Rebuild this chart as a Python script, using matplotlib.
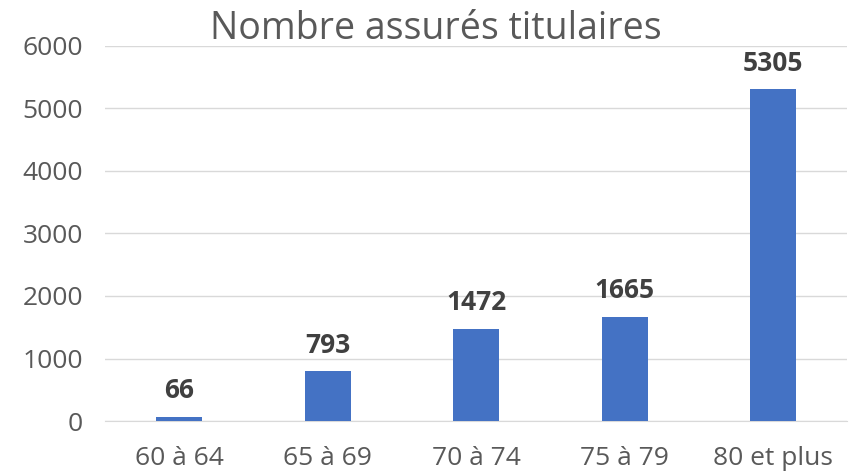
import matplotlib.pyplot as plt
import numpy as np

categories = ['60 à 64', '65 à 69', '70 à 74', '75 à 79', '80 et plus']
values = [66, 793, 1472, 1665, 5305]
yticks = [0, 1000, 2000, 3000, 4000, 5000, 6000]

plt.rcParams['font.family'] = ['Open Sans', 'DejaVu Sans']
grey = '#595959'

fig = plt.figure(figsize=(8.54, 4.76), dpi=100)
ax = fig.add_axes([0.123, 0.1155, 0.869, 0.788])

x = np.arange(len(categories))
ax.bar(x, values, width=0.31, color='#4472C4', zorder=3)
for xi, v in zip(x, values):
    ax.text(xi, v + 200, str(v), ha='center', va='bottom',
            fontsize=19, fontweight='bold', color='#404040')

ax.set_xlim(-0.5, len(categories) - 0.5)
ax.set_ylim(0, 6000)
ax.set_yticks(yticks)
ax.set_xticks(x)
ax.set_xticklabels(categories)
ax.tick_params(axis='both', length=0, labelsize=19, labelcolor=grey)
ax.tick_params(axis='x', pad=18)
ax.tick_params(axis='y', pad=16)
ax.grid(axis='y', color='#D9D9D9', linewidth=1, zorder=0)
for s in ['top', 'right', 'left']:
    ax.spines[s].set_visible(False)
ax.spines['bottom'].set_color('#D9D9D9')

fig.text(0.51, 0.94, 'Nombre assurés titulaires', ha='center', va='center',
         fontsize=27, color=grey)

fig.savefig('out.png', dpi=100)
